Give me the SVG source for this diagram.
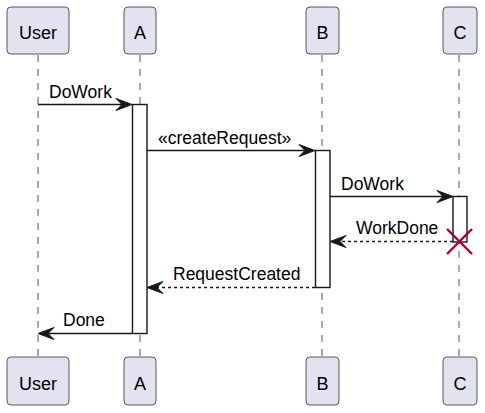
<svg xmlns="http://www.w3.org/2000/svg" width="485" height="413" viewBox="0 0 485 413">
<style>
.bg{fill:#FFFFFF}
.part rect{fill:#E2E2F0;stroke:#181818;stroke-width:0.7}
.part text{font-family:"Liberation Sans",Arial,sans-serif;font-size:18px;fill:#000000;text-anchor:middle}
.life{stroke:#555555;stroke-width:1;stroke-dasharray:7,7;fill:none}
.act{fill:#FFFFFF;stroke:#181818;stroke-width:1.4}
.msg{stroke:#181818;stroke-width:1.4;fill:none}
.ret{stroke:#181818;stroke-width:1.4;fill:none;stroke-dasharray:3,3}
.head{fill:#181818;stroke:#181818;stroke-width:1}
.lbl{font-family:"Liberation Sans",Arial,sans-serif;font-size:17.5px;fill:#000000}
.kill{stroke:#A80036;stroke-width:2.4}
</style>
<rect class="bg" x="0" y="0" width="485" height="413"/>
<g id="lifelines">
<line class="life" x1="38" y1="55" x2="38" y2="357"/>
<line class="life" x1="140" y1="55" x2="140" y2="357"/>
<line class="life" x1="322" y1="55" x2="322" y2="357"/>
<line class="life" x1="459" y1="55" x2="459" y2="357"/>
</g>
<g id="participant-User-top" class="part"><rect x="7" y="7" width="62" height="47" rx="4"/><text x="38" y="39">User</text></g>
<g id="participant-A-top" class="part"><rect x="124" y="7" width="32" height="47" rx="4"/><text x="140" y="39">A</text></g>
<g id="participant-B-top" class="part"><rect x="306" y="7" width="33" height="47" rx="4"/><text x="322.5" y="39">B</text></g>
<g id="participant-C-top" class="part"><rect x="443" y="7" width="34" height="47" rx="4"/><text x="460" y="39">C</text></g>
<g id="participant-User-bottom" class="part"><rect x="7" y="357" width="62" height="48" rx="4"/><text x="38" y="390">User</text></g>
<g id="participant-A-bottom" class="part"><rect x="124" y="357" width="32" height="48" rx="4"/><text x="140" y="390">A</text></g>
<g id="participant-B-bottom" class="part"><rect x="306" y="357" width="33" height="48" rx="4"/><text x="322.5" y="390">B</text></g>
<g id="participant-C-bottom" class="part"><rect x="443" y="357" width="34" height="48" rx="4"/><text x="460" y="390">C</text></g>
<g id="activations">
<rect id="act-A" class="act" x="132.5" y="104.5" width="14.5" height="229"/>
<rect id="act-B" class="act" x="315.5" y="150.5" width="14.5" height="137"/>
<rect id="act-C" class="act" x="453" y="196.5" width="14" height="45.5"/>
</g>
<g id="connectors">
<line class="msg" x1="38" y1="104.5" x2="130" y2="104.5"/>
<polygon class="head" points="116,98.5 132,104.5 116,110.5 122,104.5"/>
<text class="lbl" x="49" y="98">DoWork</text>
<line class="msg" x1="147" y1="150.5" x2="313" y2="150.5"/>
<polygon class="head" points="299,144.5 315,150.5 299,156.5 305,150.5"/>
<text class="lbl" x="158" y="144">«createRequest»</text>
<line class="msg" x1="330" y1="196.5" x2="451" y2="196.5"/>
<polygon class="head" points="437,190.5 453,196.5 437,202.5 443,196.5"/>
<text class="lbl" x="341" y="190">DoWork</text>
<line class="ret" x1="453" y1="241.5" x2="332" y2="241.5"/>
<polygon class="head" points="346,235.5 330,241.5 346,247.5 340,241.5"/>
<text class="lbl" x="356" y="234">WorkDone</text>
<line class="ret" x1="315" y1="287.5" x2="149" y2="287.5"/>
<polygon class="head" points="163,281.5 147,287.5 163,293.5 157,287.5"/>
<text class="lbl" x="173" y="280">RequestCreated</text>
<line class="msg" x1="132" y1="333.5" x2="40" y2="333.5"/>
<polygon class="head" points="54,327.5 38,333.5 54,339.5 48,333.5"/>
<text class="lbl" x="63" y="326">Done</text>
</g>
<g id="destroy-C">
<line class="kill" x1="447" y1="229" x2="472" y2="254"/>
<line class="kill" x1="472" y1="229" x2="447" y2="254"/>
</g>
</svg>
